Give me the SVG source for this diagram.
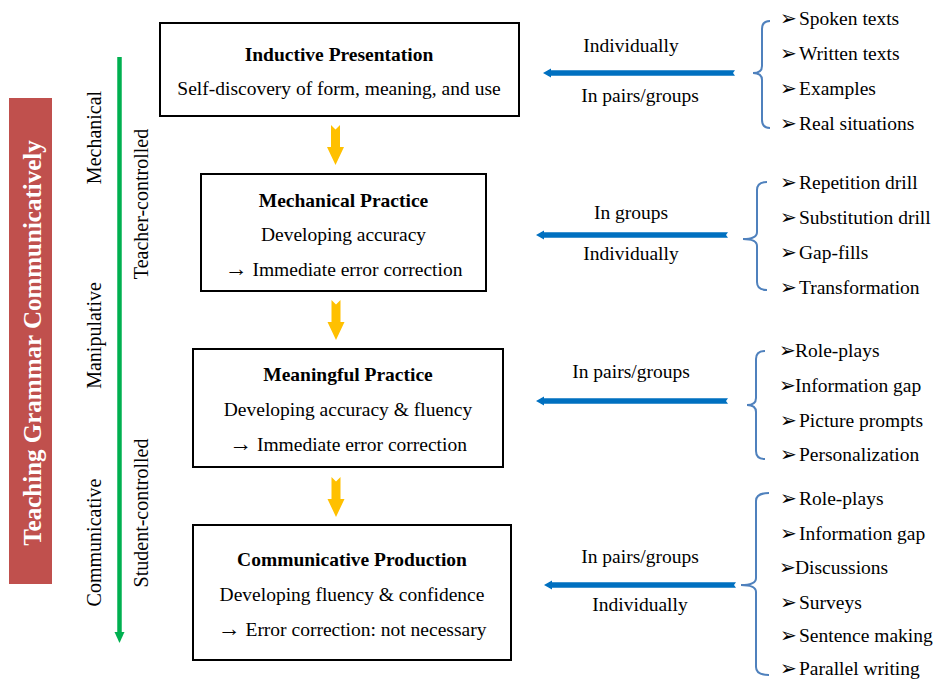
<svg xmlns="http://www.w3.org/2000/svg" width="935" height="682" viewBox="0 0 935 682">
<style>
text{font-family:"Liberation Serif","Times New Roman",serif;font-size:19.5px;fill:#000}
.b{font-weight:bold}
.m{text-anchor:middle}
.ar{font-size:23px}
.side{font-size:20px;text-anchor:middle}
.title{font-size:25px;font-weight:bold;fill:#fff;text-anchor:middle}
.bul{font-family:"DejaVu Sans",sans-serif;font-size:20px}
.box{fill:#fff;stroke:#000;stroke-width:2}
.brace{fill:none;stroke:#4F81BD;stroke-width:2}
.ya{fill:#FFC000}
.ba{fill:#0070C0}
</style>
<rect width="935" height="682" fill="#fff"/>

<g id="title">
<rect x="9" y="98" width="43" height="486" fill="#C0504D"/>
<text class="title" transform="translate(41,343) rotate(-90)">Teaching Grammar Communicatively</text>
</g>

<g id="axis-labels">
<text class="side" transform="translate(100.5,137.5) rotate(-90)">Mechanical</text>
<text class="side" transform="translate(100.5,335.5) rotate(-90)">Manipulative</text>
<text class="side" transform="translate(100.5,542.5) rotate(-90)">Communicative</text>
<text class="side" transform="translate(148,204) rotate(-90)">Teacher-controlled</text>
<text class="side" transform="translate(148,513) rotate(-90)">Student-controlled</text>
</g>

<g id="connectors">
<line x1="119.5" y1="57" x2="119.5" y2="633" stroke="#00B050" stroke-width="4.5"/>
<polygon points="114.5,632 124.5,632 119.5,643" fill="#00B050"/>
<polygon class="ya" points="331,125 335.5,129.5 340,125 340,147 344,147 335.5,165 327,147 331,147"/>
<polygon class="ya" points="331.5,300 336,304.5 340.5,300 340.5,322 344.5,322 336,340 327.5,322 331.5,322"/>
<polygon class="ya" points="331.5,477 336,481.5 340.5,477 340.5,499 344.5,499 336,517 327.5,499 331.5,499"/>
<polygon class="ba" points="543,73 551,68.5 551,70.3 735,70.3 733,73 735,75.7 551,75.7 551,77.5"/>
<polygon class="ba" points="536,235 544,230.5 544,232.3 728,232.3 726,235 728,237.7 544,237.7 544,239.5"/>
<polygon class="ba" points="536,401 544,396.5 544,398.3 728,398.3 726,401 728,403.7 544,403.7 544,405.5"/>
<polygon class="ba" points="544,585 552,580.5 552,582.3 736,582.3 734,585 736,587.7 552,587.7 552,589.5"/>
<path class="brace" d="M770,21 Q762,21 762,29 V66 Q762,73 753,73 Q762,73 762,80 V120 Q762,128 770,128"/>
<path class="brace" d="M767,182 Q757,182 757,190 V232 Q757,239 743,239 Q757,239 757,246 V282 Q757,290 767,290"/>
<path class="brace" d="M765,351 Q756,351 756,359 V398 Q756,405 747,405 Q756,405 756,412 V451 Q756,459 765,459"/>
<path class="brace" d="M769,493 Q756,493 756,501 V578 Q756,585 741,585 Q756,585 756,592 V667 Q756,675 769,675"/>
</g>

<g id="node-inductive">
<rect class="box" x="160" y="23" width="359" height="93"/>
<text class="b m" x="339" y="61">Inductive Presentation</text>
<text class="m" x="339" y="95">Self-discovery of form, meaning, and use</text>
</g>
<g id="node-mechanical">
<rect class="box" x="201" y="174" width="285" height="117"/>
<text class="b m" x="343.5" y="207">Mechanical Practice</text>
<text class="m" x="343.5" y="241">Developing accuracy</text>
<text class="m" x="343.5" y="276"><tspan class="ar">→</tspan> Immediate error correction</text>
</g>
<g id="node-meaningful">
<rect class="box" x="193" y="349" width="310" height="118"/>
<text class="b m" x="348" y="381">Meaningful Practice</text>
<text class="m" x="348" y="416">Developing accuracy &amp; fluency</text>
<text class="m" x="348" y="451"><tspan class="ar">→</tspan> Immediate error correction</text>
</g>
<g id="node-communicative">
<rect class="box" x="193" y="525" width="318" height="135"/>
<text class="b m" x="352" y="566">Communicative Production</text>
<text class="m" x="352" y="601">Developing fluency &amp; confidence</text>
<text class="m" x="352" y="636"><tspan class="ar">→</tspan> Error correction: not necessary</text>
</g>

<g id="labels">
<text class="m" x="631" y="52">Individually</text>
<text class="m" x="640" y="102">In pairs/groups</text>
<text class="m" x="631" y="219">In groups</text>
<text class="m" x="631" y="260">Individually</text>
<text class="m" x="631" y="378">In pairs/groups</text>
<text class="m" x="640" y="563">In pairs/groups</text>
<text class="m" x="640" y="611">Individually</text>
</g>

<g id="list-1">
<text class="bul" x="780" y="25">➢</text><text x="799" y="25">Spoken texts</text>
<text class="bul" x="780" y="60">➢</text><text x="799" y="60">Written texts</text>
<text class="bul" x="780" y="95">➢</text><text x="799" y="95">Examples</text>
<text class="bul" x="780" y="130">➢</text><text x="799" y="130">Real situations</text>
</g>
<g id="list-2">
<text class="bul" x="780" y="189">➢</text><text x="799" y="189">Repetition drill</text>
<text class="bul" x="780" y="224">➢</text><text x="799" y="224">Substitution drill</text>
<text class="bul" x="780" y="259">➢</text><text x="799" y="259">Gap-fills</text>
<text class="bul" x="780" y="294">➢</text><text x="799" y="294">Transformation</text>
</g>
<g id="list-3">
<text class="bul" x="779" y="357">➢</text><text x="795" y="357">Role-plays</text>
<text class="bul" x="779" y="392">➢</text><text x="795" y="392">Information gap</text>
<text class="bul" x="780" y="427">➢</text><text x="799" y="427">Picture prompts</text>
<text class="bul" x="780" y="461">➢</text><text x="799" y="461">Personalization</text>
</g>
<g id="list-4">
<text class="bul" x="780" y="505">➢</text><text x="799" y="505">Role-plays</text>
<text class="bul" x="780" y="540">➢</text><text x="799" y="540">Information gap</text>
<text class="bul" x="779" y="574">➢</text><text x="795" y="574">Discussions</text>
<text class="bul" x="780" y="609">➢</text><text x="799" y="609">Surveys</text>
<text class="bul" x="780" y="642">➢</text><text x="799" y="642">Sentence making</text>
<text class="bul" x="780" y="675">➢</text><text x="799" y="675">Parallel writing</text>
</g>
</svg>
